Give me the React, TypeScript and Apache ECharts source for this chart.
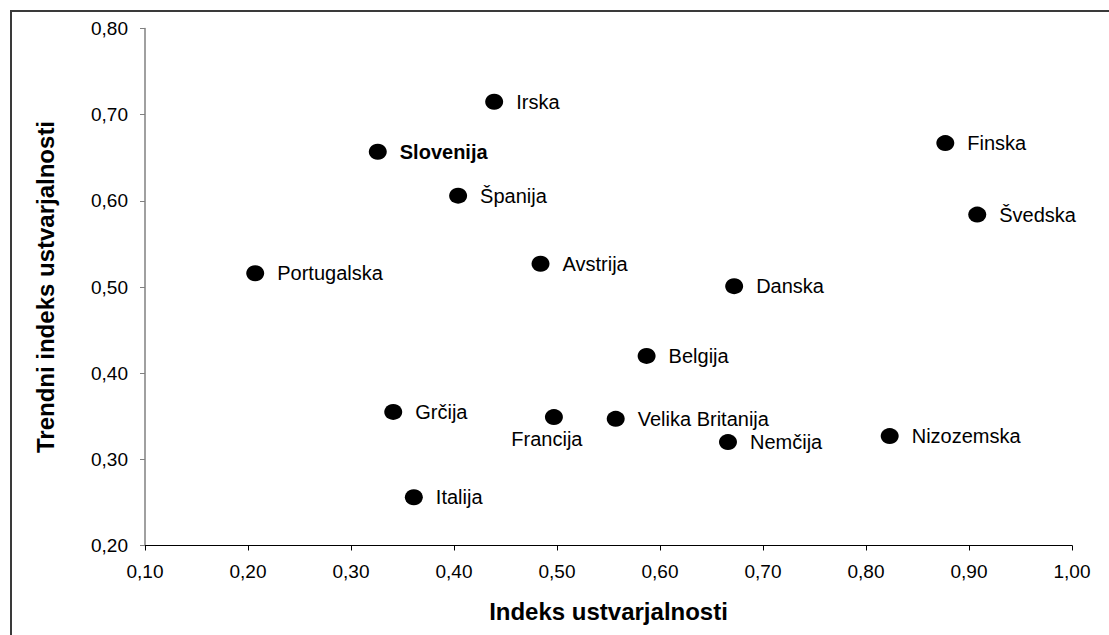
import React, { useEffect, useRef } from "react";
import * as echarts from "echarts";

const countries = [
  "Irska", "Slovenija", "Španija", "Portugalska", "Avstrija", "Grčija", "Francija", "Italija",
  "Velika Britanija", "Belgija", "Nemčija", "Nizozemska", "Danska", "Finska", "Švedska",
];
const creativityIndex = [
  0.439, 0.326, 0.404, 0.207, 0.484, 0.341, 0.497, 0.361,
  0.557, 0.587, 0.666, 0.823, 0.672, 0.877, 0.908,
];
const trendIndex = [
  0.715, 0.657, 0.606, 0.516, 0.527, 0.355, 0.349, 0.256,
  0.347, 0.42, 0.32, 0.327, 0.501, 0.667, 0.584,
];
const boldLabels = ["Slovenija"];
const belowLabels = ["Francija"];

const xAxisTitle = "Indeks ustvarjalnosti";
const yAxisTitle = "Trendni indeks ustvarjalnosti";

const FONT = "'Liberation Sans', Arial, Helvetica, sans-serif";
const fmt = (v: number) => v.toFixed(2).replace(".", ",");

export default function App() {
  const ref = useRef<HTMLDivElement>(null);
  useEffect(() => {
    if (!ref.current) return;
    const chart = echarts.init(ref.current, null, { renderer: "svg" });
    const data = countries.map((name, i) => {
      const item: any = { name, value: [creativityIndex[i], trendIndex[i]] };
      if (boldLabels.includes(name)) {
        item.label = { fontWeight: "bold" };
      }
      if (belowLabels.includes(name)) {
        item.label = { position: "bottom", distance: 4, offset: [-7, 0] };
      }
      return item;
    });
    chart.setOption({
      animation: false,
      backgroundColor: "#ffffff",
      graphic: [
        {
          type: "rect",
          shape: { x: 11, y: 11, width: 1300, height: 800 },
          style: { fill: "none", stroke: "#3a3a3a", lineWidth: 2 },
          silent: true,
          z: 0,
        },
      ],
      grid: { left: 145, right: 37, top: 28.5, bottom: 89.5, containLabel: false },
      xAxis: {
        type: "value",
        min: 0.1,
        max: 1.0,
        interval: 0.1,
        name: xAxisTitle,
        nameLocation: "middle",
        nameGap: 54,
        nameTextStyle: { fontFamily: FONT, fontSize: 24, fontWeight: "bold", color: "#000" },
        axisLine: { show: true, lineStyle: { color: "#000", width: 1 } },
        axisTick: { show: true, length: 5, inside: false, lineStyle: { color: "#000" } },
        axisLabel: { formatter: fmt, fontFamily: FONT, fontSize: 19, color: "#000", margin: 16 },
        splitLine: { show: false },
      },
      yAxis: {
        type: "value",
        min: 0.2,
        max: 0.8,
        interval: 0.1,
        name: yAxisTitle,
        nameLocation: "middle",
        nameGap: 88,
        nameRotate: 90,
        nameTextStyle: { fontFamily: FONT, fontSize: 24, fontWeight: "bold", color: "#000" },
        axisLine: { show: true, lineStyle: { color: "#808080", width: 1.5 } },
        axisTick: { show: true, length: 5, inside: false, lineStyle: { color: "#808080" } },
        axisLabel: { formatter: fmt, fontFamily: FONT, fontSize: 19, color: "#000", margin: 17 },
        splitLine: { show: false },
      },
      series: [
        {
          type: "scatter",
          symbol: "circle",
          symbolSize: [18, 16],
          itemStyle: { color: "#000", opacity: 1 },
          label: {
            show: true,
            position: "right",
            distance: 13,
            formatter: "{b}",
            fontFamily: FONT,
            fontSize: 20,
            color: "#000",
          },
          data,
        },
      ],
    });
    return () => chart.dispose();
  }, []);
  return (
    <div
      ref={ref}
      style={{ position: "absolute", left: 0, top: 0, width: 1109, height: 635, background: "#fff" }}
    />
  );
}
